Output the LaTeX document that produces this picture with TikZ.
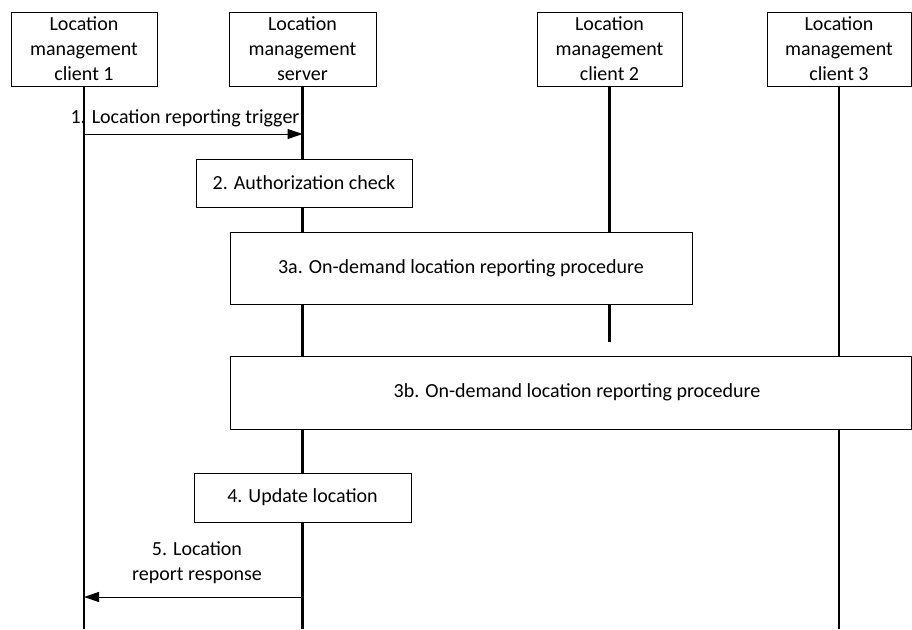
\documentclass[tikz,border=0pt]{standalone}
\usepackage{fontspec}
\setmainfont{Carlito}
\usetikzlibrary{arrows.meta}
\begin{document}
\begin{tikzpicture}[x=1pt,y=-1pt,
  txt/.style={font=\fontsize{20}{25}\selectfont,align=center,inner sep=0pt},
  hdr/.style={txt,draw,line width=1pt,fill=white,minimum height=74pt},
  stepbox/.style={txt,draw,line width=1pt,fill=white},
  life/.style={line width=2.5pt},
  msg/.style={line width=1pt,-{Triangle[length=15pt,width=10pt]}}]
\useasboundingbox (0,0) rectangle (912,629);
% headers
\node[hdr,minimum width=146pt] (h1) at (84,49) {Location\\management\\client 1};
\node[hdr,minimum width=147pt] (hs) at (302.5,49) {Location\\management\\server};
\node[hdr,minimum width=145pt] (h2) at (609.5,49) {Location\\management\\client 2};
\node[hdr,minimum width=144pt] (h3) at (839,49) {Location\\management\\client 3};
% lifeline ends
\coordinate (bot) at (0,629);
\coordinate (end2) at (0,342);
\draw[life] (h1.south) -- (h1.south |- bot);
\draw[life] (hs.south) -- (hs.south |- bot);
\draw[life] (h2.south) -- (h2.south |- end2);
\draw[life] (h3.south) -- (h3.south |- bot);
% boxes
\node[stepbox,minimum width=216pt,minimum height=48pt] (s2) at (304,183) {2. Authorization check};
\node[stepbox,minimum width=462pt,minimum height=72pt] (s3a) at (461,268) {3a. On-demand location reporting procedure};
\node[stepbox,minimum width=681pt,minimum height=73pt,anchor=west] (s3b) at (230,392.5) {\hspace*{12pt}3b. On-demand location reporting procedure};
\node[stepbox,minimum width=217pt,minimum height=49pt] (s4) at (302.5,497.5) {4. Update location};
% messages
\coordinate (y1) at (0,134);
\coordinate (y5) at (0,597);
\draw[msg] (h1.south |- y1) -- (hs.south |- y1);
\node[txt] (l1) at (185,118) {1. Location reporting trigger};
\draw[msg] (hs.south |- y5) -- (h1.south |- y5);
\node[txt] (l5) at (197,563) {5. Location\\report response};
\end{tikzpicture}
\end{document}
